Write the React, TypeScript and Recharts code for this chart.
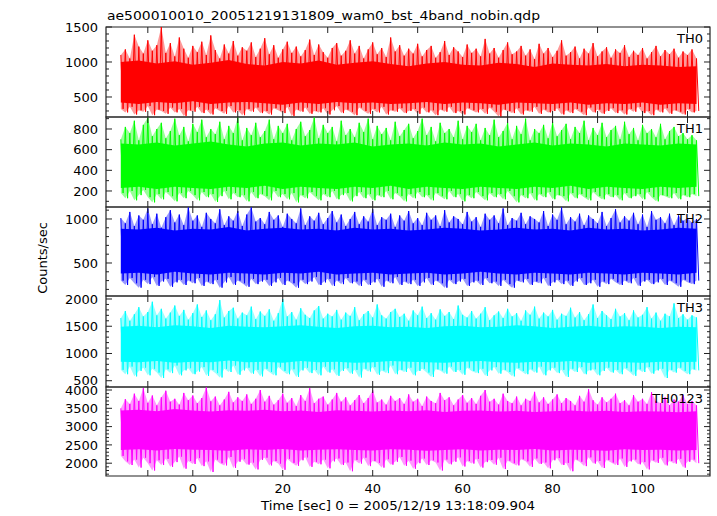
import React from 'react';
import { ComposedChart, Area, Line, XAxis, YAxis, ReferenceArea } from 'recharts';

// time bins: outer envelope every 1 s, dense core every 4 s, both starting at -16 s
const TIME_START = -16;
const BIN = 1;
const CORE_BIN = 4;

const X_MIN = -19.3;
const X_MAX = 115;
const X_TICKS = [-10, 0, 10, 20, 30, 40, 50, 60, 70, 80, 90, 100, 110];
const X_LABELS = [0, 20, 40, 60, 80, 100];

// TH0 (red)
const TH0_HI = [
  1100, 1180, 1050, 1390, 1220, 1120, 1310, 1160, 1240, 1500, 1130, 1270, 1080, 1350, 1190, 1060,
  1230, 1140, 1290, 1100, 1380, 1170, 1050, 1250, 1120, 1300, 1090, 1210, 1160, 1280, 1070, 1190,
  1340, 1110, 1240, 1060, 1180, 1290, 1130, 1220, 1080, 1170, 1320, 1100, 1250, 1140, 1060, 1200,
  1270, 1090, 1160, 1310, 1120, 1230, 1050, 1180, 1280, 1110, 1200, 1070, 1350, 1150, 1240, 1090,
  1190, 1120, 1260, 1080, 1170, 1230, 1060, 1140, 1300, 1100, 1210, 1150, 1070, 1250, 1130, 1190,
  1080, 1330, 1120, 1200, 1060, 1170, 1280, 1110, 1150, 1230, 1090, 1180, 1040, 1260, 1120, 1200,
  1070, 1160, 1310, 1090, 1140, 1220, 1050, 1190, 1120, 1270, 1080, 1150, 1210, 1060, 1180, 1130,
  1240, 1070, 1160, 1100, 1200, 1050, 1140, 1230, 1080, 1170, 1110, 1190, 1060, 1150, 1100, 1180, 1050,
];
const TH0_LO = [
  330, 280, 360, 250, 310, 290, 370, 240, 320, 300, 260, 350, 280, 330, 230, 310,
  290, 360, 270, 320, 250, 340, 300, 260, 370, 280, 310, 240, 330, 290, 350, 270,
  300, 250, 340, 310, 270, 360, 230, 320, 290, 350, 260, 300, 280, 340, 250, 310,
  370, 270, 320, 290, 240, 350, 300, 260, 330, 280, 360, 250, 310, 290, 340, 270,
  300, 330, 260, 350, 280, 310, 240, 320, 290, 360, 270, 300, 250, 340, 310, 280,
  330, 260, 350, 290, 220, 320, 300, 270, 340, 250, 310, 290, 360, 260, 320, 280,
  300, 340, 250, 310, 270, 330, 290, 240, 350, 280, 320, 260, 300, 340, 270, 310,
  250, 330, 290, 360, 270, 300, 240, 320, 280, 340, 260, 310, 290, 250, 330, 280, 300,
];
const TH0_CORE_HI = [1000, 1020, 980, 1010, 960, 990, 1030, 970, 950, 1000, 980, 1020, 960, 990, 1010, 970, 940, 980, 1000, 960, 950, 990, 970, 930, 980, 960, 950, 970, 940, 960, 950, 930, 940];
const TH0_CORE_LO = [420, 400, 430, 410, 440, 400, 420, 430, 410, 390, 420, 400, 430, 410, 420, 400, 410, 430, 400, 420, 410, 390, 420, 410, 400, 420, 390, 410, 400, 420, 390, 410, 400];

// TH1 (green)
const TH1_HI = [
  700, 820, 760, 880, 690, 840, 910, 730, 800, 860, 710, 780, 900, 740, 820, 680,
  850, 770, 890, 720, 800, 750, 870, 700, 830, 760, 910, 690, 810, 740, 860, 720,
  780, 890, 700, 830, 760, 850, 690, 800, 870, 730, 790, 910, 710, 840, 760, 820,
  680, 880, 740, 800, 720, 860, 770, 900, 700, 830, 750, 810, 690, 870, 730, 790,
  850, 710, 780, 900, 740, 820, 680, 860, 760, 800, 720, 880, 700, 830, 770, 850,
  690, 810, 740, 890, 720, 780, 860, 700, 830, 750, 900, 690, 800, 760, 840, 710,
  870, 730, 790, 850, 700, 820, 760, 880, 690, 810, 740, 860, 720, 790, 830, 700,
  870, 750, 810, 690, 840, 760, 800, 720, 850, 700, 780, 820, 730, 760, 700, 740, 690,
];
const TH1_LO = [
  180, 130, 200, 110, 160, 210, 140, 90, 170, 120, 190, 150, 100, 180, 130, 200,
  160, 110, 190, 140, 170, 95, 150, 200, 120, 180, 140, 160, 100, 190, 130, 170,
  150, 110, 200, 140, 170, 120, 180, 90, 160, 130, 190, 150, 110, 170, 140, 200,
  120, 160, 180, 100, 150, 190, 130, 170, 110, 160, 140, 200, 120, 180, 150, 100,
  170, 130, 190, 140, 160, 110, 180, 150, 120, 200, 140, 170, 100, 160, 130, 190,
  150, 110, 180, 140, 170, 120, 200, 150, 90, 160, 130, 180, 110, 170, 140, 190,
  120, 160, 150, 100, 180, 130, 170, 140, 110, 190, 150, 120, 170, 140, 160, 110,
  180, 130, 150, 170, 120, 190, 140, 100, 160, 150, 130, 180, 120, 160, 140, 170, 150,
];
const TH1_CORE_HI = [660, 650, 670, 640, 660, 680, 650, 630, 660, 670, 640, 660, 650, 670, 630, 650, 660, 640, 670, 650, 660, 630, 650, 670, 640, 660, 650, 630, 660, 650, 640, 660, 650];
const TH1_CORE_LO = [230, 240, 220, 240, 230, 220, 240, 230, 250, 220, 240, 230, 220, 240, 230, 250, 220, 240, 230, 220, 240, 230, 220, 240, 230, 250, 220, 240, 230, 220, 240, 230, 240];

// TH2 (blue)
const TH2_HI = [
  1010, 950, 1080, 920, 1040, 990, 1120, 940, 1060, 900, 1020, 1100, 960, 1050, 930, 1130,
  980, 1040, 910, 1070, 1000, 950, 1110, 930, 1030, 980, 1090, 920, 1050, 1130, 970, 1010,
  940, 1080, 990, 1040, 910, 1060, 1000, 950, 1120, 930, 1030, 980, 1070, 940, 1010, 1090,
  960, 1050, 920, 1000, 1080, 940, 1030, 970, 1110, 930, 1020, 990, 1060, 910, 1040, 980,
  1090, 950, 1010, 930, 1070, 990, 1040, 920, 1100, 960, 1030, 1000, 940, 1080, 970, 1020,
  910, 1060, 990, 1040, 950, 1120, 930, 1010, 980, 1070, 940, 1030, 1000, 960, 1090, 920,
  1050, 990, 1130, 940, 1020, 970, 1060, 930, 1040, 1000, 950, 1080, 920, 1010, 1110, 960,
  1030, 980, 1070, 940, 1050, 910, 1090, 990, 1020, 950, 1060, 930, 1040, 980, 1010, 960, 1000,
];
const TH2_LO = [
  300, 250, 330, 270, 220, 310, 260, 340, 240, 290, 320, 230, 280, 310, 250, 300,
  270, 330, 240, 290, 260, 310, 220, 280, 340, 250, 300, 270, 230, 320, 260, 290,
  310, 240, 280, 330, 250, 300, 270, 220, 310, 260, 290, 340, 250, 280, 320, 240,
  300, 260, 330, 270, 290, 240, 310, 250, 280, 320, 230, 300, 270, 340, 250, 290,
  260, 310, 240, 280, 330, 250, 300, 270, 220, 310, 260, 290, 320, 240, 280, 300,
  250, 330, 270, 290, 240, 310, 260, 220, 300, 280, 320, 250, 290, 270, 330, 240,
  280, 310, 260, 300, 240, 290, 330, 250, 270, 310, 230, 290, 260, 320, 280, 250,
  300, 270, 330, 240, 290, 310, 260, 280, 320, 250, 300, 270, 230, 310, 280, 260, 300,
];
const TH2_CORE_HI = [890, 880, 900, 870, 890, 880, 910, 870, 890, 900, 880, 890, 870, 900, 880, 890, 870, 880, 900, 890, 870, 880, 900, 880, 890, 870, 900, 880, 890, 870, 880, 900, 890];
const TH2_CORE_LO = [380, 390, 370, 400, 380, 370, 390, 380, 370, 390, 380, 400, 370, 380, 390, 370, 380, 390, 370, 380, 400, 380, 370, 390, 380, 370, 390, 380, 370, 390, 380, 370, 390];

// TH3 (cyan)
const TH3_HI = [
  1650, 1780, 1600, 1720, 1850, 1680, 1760, 1950, 1700, 1820, 1640, 1750, 1880, 1690, 1800, 1620,
  1740, 1900, 1670, 1790, 1610, 1720, 1980, 1660, 1780, 1840, 1640, 1750, 1700, 1860, 1630, 1770,
  1690, 1810, 1600, 1740, 2000, 1680, 1760, 1620, 1830, 1710, 1650, 1790, 1870, 1640, 1730, 1680,
  1800, 1620, 1750, 1690, 1850, 1610, 1720, 1780, 1660, 1900, 1700, 1640, 1760, 1820, 1670, 1730,
  1600, 1790, 1700, 1860, 1650, 1740, 1620, 1810, 1690, 1760, 1630, 1880, 1710, 1660, 1780, 1640,
  1730, 1850, 1610, 1700, 1770, 1650, 1820, 1680, 1740, 1600, 1790, 1710, 1860, 1640, 1750, 1680,
  1800, 1620, 1730, 1690, 1840, 1660, 1760, 1610, 1720, 1900, 1650, 1780, 1700, 1630, 1820, 1680,
  1740, 1610, 1790, 1660, 1710, 1850, 1640, 1750, 1600, 1730, 1680, 1920, 1650, 1720, 1620, 1700, 1660,
];
const TH3_LO = [
  700, 620, 760, 580, 680, 740, 600, 720, 650, 550, 710, 640, 780, 600, 690, 730,
  620, 670, 750, 590, 700, 640, 560, 720, 660, 780, 610, 690, 740, 630, 700, 580,
  720, 660, 600, 750, 680, 620, 710, 570, 690, 740, 640, 700, 600, 760, 650, 710,
  590, 680, 730, 630, 700, 560, 720, 670, 750, 610, 690, 640, 780, 620, 700, 660,
  740, 600, 680, 720, 650, 570, 710, 690, 630, 760, 660, 700, 610, 740, 680, 640,
  720, 590, 690, 750, 630, 700, 660, 580, 730, 680, 620, 710, 650, 760, 600, 690,
  740, 640, 700, 570, 720, 660, 750, 620, 690, 710, 600, 680, 740, 650, 700, 620,
  730, 670, 590, 710, 660, 750, 630, 690, 720, 550, 700, 650, 740, 680, 620, 710, 690,
];
const TH3_CORE_HI = [1490, 1510, 1480, 1520, 1500, 1470, 1510, 1490, 1480, 1500, 1520, 1490, 1470, 1500, 1510, 1480, 1490, 1470, 1500, 1510, 1480, 1490, 1520, 1500, 1470, 1490, 1510, 1480, 1500, 1490, 1470, 1490, 1480];
const TH3_CORE_LO = [850, 840, 860, 830, 850, 840, 870, 840, 850, 830, 860, 840, 850, 830, 840, 860, 850, 840, 830, 850, 860, 840, 830, 850, 840, 860, 830, 850, 840, 830, 850, 840, 850];

// TH0123 (magenta)
const TH0123_HI = [
  3500, 3750, 3620, 3900, 3700, 4050, 3650, 3850, 3580, 3800, 3980, 3680, 3760, 3600, 3920, 3720,
  3850, 3640, 3780, 4070, 3690, 3820, 3580, 3740, 3950, 3660, 3800, 3700, 3880, 3620, 3760, 4000,
  3680, 3840, 3600, 3720, 3900, 3650, 3780, 3560, 3860, 3700, 4050, 3640, 3760, 3820, 3600, 3740,
  3920, 3680, 3800, 3580, 3720, 3860, 3640, 3780, 3990, 3660, 3740, 3600, 3840, 3700, 3780, 3620,
  3880, 3680, 3760, 3560, 3820, 3700, 3640, 3920, 3720, 3800, 3580, 3740, 3860, 3650, 3780, 3620,
  3840, 4000, 3680, 3760, 3600, 3900, 3700, 3640, 3820, 3580, 3760, 3700, 3950, 3660, 3800, 3620,
  3740, 3880, 3640, 3780, 3700, 3580, 3840, 3680, 4020, 3720, 3600, 3800, 3660, 3760, 3900, 3640,
  3720, 3580, 3860, 3680, 3760, 3620, 3940, 3700, 3640, 3800, 3580, 3740, 3680, 3860, 3620, 3700, 3580,
];
const TH0123_LO = [
  2200, 2050, 1950, 2100, 1880, 2150, 2000, 1800, 2080, 1950, 2120, 1900, 2030, 2180, 1850, 2060,
  1980, 2140, 1920, 2050, 1760, 2100, 2000, 1940, 2170, 1870, 2040, 2110, 1960, 2020, 1830, 2090,
  2150, 1940, 2060, 1990, 1820, 2120, 2010, 1930, 2080, 2160, 1900, 2040, 1970, 2100, 1860, 2050,
  2130, 1950, 2020, 1780, 2090, 1990, 2150, 1920, 2060, 2010, 1880, 2110, 1960, 2040, 2170, 1930,
  2070, 1850, 2000, 2130, 1950, 2080, 2020, 1800, 2100, 1970, 2040, 2160, 1910, 2060, 1990, 2120,
  1880, 2030, 2090, 1960, 2150, 1840, 2070, 2000, 1940, 2110, 2050, 1900, 2130, 1980, 2020, 1860,
  2080, 2140, 1950, 2010, 1780, 2100, 2040, 1920, 2160, 1990, 2060, 1870, 2090, 2020, 1950, 2130,
  1900, 2050, 2100, 1970, 2030, 1830, 2080, 2010, 2150, 1940, 2060, 1990, 2120, 1880, 2040, 2100, 2000,
];
const TH0123_CORE_HI = [3440, 3460, 3420, 3480, 3440, 3410, 3450, 3430, 3460, 3420, 3440, 3400, 3450, 3430, 3410, 3440, 3420, 3450, 3400, 3430, 3440, 3410, 3430, 3400, 3420, 3440, 3410, 3430, 3400, 3420, 3410, 3390, 3420];
const TH0123_CORE_LO = [2360, 2380, 2350, 2390, 2370, 2360, 2340, 2380, 2360, 2390, 2350, 2370, 2380, 2360, 2350, 2380, 2370, 2340, 2360, 2380, 2350, 2370, 2360, 2390, 2350, 2370, 2360, 2340, 2380, 2360, 2370, 2350, 2360];

const TH0_LABELS = [500, 1000, 1500];
const TH1_LABELS = [200, 400, 600, 800];
const TH2_LABELS = [500, 1000];
const TH3_LABELS = [500, 1000, 1500, 2000];
const TH0123_LABELS = [2000, 2500, 3000, 3500, 4000];

const W = 717;
const H = 516;
const PLOT_L = 106;
const PLOT_R = 710;
const PLOT_W = PLOT_R - PLOT_L;
const Y_AXIS_W = 100;
const PANEL_EDGES = [27, 117, 207, 296, 387, 476];
const PAD = 12;
const FONT = '"DejaVu Sans", "Liberation Sans", sans-serif';
const INK = '#222';

const PANELS = [
  { name: 'TH0', color: '#ff0000', domain: [214, 1500], labels: TH0_LABELS, hi: TH0_HI, lo: TH0_LO, coreHi: TH0_CORE_HI, coreLo: TH0_CORE_LO },
  { name: 'TH1', color: '#00ff00', domain: [45, 916], labels: TH1_LABELS, hi: TH1_HI, lo: TH1_LO, coreHi: TH1_CORE_HI, coreLo: TH1_CORE_LO },
  { name: 'TH2', color: '#0000ff', domain: [125, 1136], labels: TH2_LABELS, hi: TH2_HI, lo: TH2_LO, coreHi: TH2_CORE_HI, coreLo: TH2_CORE_LO },
  { name: 'TH3', color: '#00ffff', domain: [385, 2055], labels: TH3_LABELS, hi: TH3_HI, lo: TH3_LO, coreHi: TH3_CORE_HI, coreLo: TH3_CORE_LO },
  { name: 'TH0123', color: '#ff00ff', domain: [1650, 4082], labels: TH0123_LABELS, hi: TH0123_HI, lo: TH0123_LO, coreHi: TH0123_CORE_HI, coreLo: TH0123_CORE_LO },
];

function band(hi: number[], lo: number[], step: number) {
  const n = Math.min(hi.length, lo.length);
  const rows = [];
  for (let i = 0; i < n; i++) rows.push({ t: TIME_START + i * step, band: [lo[i], hi[i]] });
  return rows;
}

// the raw light curve swings between bin max and bin min: peak at the bin start, dip half a bin later
function zigzag(hi: number[], lo: number[]) {
  const n = Math.min(hi.length, lo.length);
  const rows = [];
  for (let i = 0; i < n; i++) {
    rows.push({ t: TIME_START + i * BIN, v: hi[i] });
    rows.push({ t: TIME_START + (i + 0.5) * BIN, v: lo[i] });
  }
  return rows;
}

function minorTicks(domain: number[], step = 100) {
  const out: number[] = [];
  for (let v = Math.ceil(domain[0] / step) * step; v <= domain[1]; v += step) out.push(v);
  return out;
}

function YTick(props: any) {
  const { x, y, payload, labels } = props;
  const major = labels.includes(payload.value);
  const len = major ? 6 : 3;
  return (
    <g>
      <line x1={x} x2={x + len} y1={y} y2={y} stroke={INK} />
      <line x1={x + PLOT_W} x2={x + PLOT_W - len} y1={y} y2={y} stroke={INK} />
      {major && (
        <text x={x - 8} y={y} dy="0.36em" textAnchor="end" fontSize={13} fontFamily={FONT} fill="#000">
          {payload.value}
        </text>
      )}
    </g>
  );
}

function XTick(props: any) {
  const { x, y, payload, plotH, showLabels } = props;
  const top = y - plotH;
  return (
    <g>
      <line x1={x} x2={x} y1={y} y2={y - 6} stroke={INK} />
      <line x1={x} x2={x} y1={top} y2={top + 6} stroke={INK} />
      {showLabels && X_LABELS.includes(payload.value) && (
        <text x={x} y={y + 17} textAnchor="middle" fontSize={13} fontFamily={FONT} fill="#000">
          {payload.value}
        </text>
      )}
    </g>
  );
}

function Panel({ idx }: { idx: number }) {
  const p = PANELS[idx];
  const top = PANEL_EDGES[idx];
  const plotH = PANEL_EDGES[idx + 1] - top;
  const last = idx === PANELS.length - 1;
  const bottom = last ? 40 : PAD;
  const outer = band(p.hi, p.lo, BIN);
  const core = band(p.coreHi, p.coreLo, CORE_BIN);
  const raw = zigzag(p.hi, p.lo);
  return (
    <div style={{ position: 'absolute', left: 0, top: top - PAD }}>
      <ComposedChart
        width={W}
        height={plotH + PAD + bottom}
        margin={{ top: PAD, right: W - PLOT_R, bottom: bottom - 1, left: PLOT_L - Y_AXIS_W }}
      >
        <XAxis
          type="number"
          dataKey="t"
          domain={[X_MIN, X_MAX]}
          ticks={X_TICKS}
          interval={0}
          allowDataOverflow
          height={1}
          tickSize={0}
          tickMargin={0}
          axisLine={false}
          tick={(tp: any) => <XTick {...tp} plotH={plotH} showLabels={last} />}
        />
        <YAxis
          type="number"
          domain={p.domain}
          ticks={minorTicks(p.domain)}
          interval={0}
          allowDataOverflow
          width={Y_AXIS_W}
          tickSize={0}
          tickMargin={0}
          axisLine={false}
          tick={(tp: any) => <YTick {...tp} labels={p.labels} />}
        />
        <Area
          data={outer}
          dataKey="band"
          type="linear"
          fill={p.color}
          fillOpacity={0.4}
          stroke="none"
          dot={false}
          activeDot={false}
          isAnimationActive={false}
        />
        <Line
          data={raw}
          dataKey="v"
          type="linear"
          stroke={p.color}
          strokeWidth={1}
          dot={false}
          activeDot={false}
          isAnimationActive={false}
        />
        <Area
          data={core}
          dataKey="band"
          type="linear"
          fill={p.color}
          fillOpacity={1}
          stroke="none"
          dot={false}
          activeDot={false}
          isAnimationActive={false}
        />
        <ReferenceArea
          x1={X_MIN}
          x2={X_MAX}
          y1={p.domain[0]}
          y2={p.domain[1]}
          fill="none"
          stroke={INK}
          strokeWidth={1.2}
          ifOverflow="visible"
        />
      </ComposedChart>
    </div>
  );
}

export default function App() {
  return (
    <div style={{ position: 'absolute', left: 0, top: 0, width: W, height: H, background: '#fff' }}>
      {PANELS.map((_, i) => (
        <Panel key={i} idx={i} />
      ))}
      <svg width={W} height={H} style={{ position: 'absolute', left: 0, top: 0, pointerEvents: 'none' }}>
        <text x={107} y={20} fontSize={13} fontFamily={FONT} textLength={433} lengthAdjust="spacingAndGlyphs">
          ae500010010_20051219131809_wam0_bst_4band_nobin.qdp
        </text>
        <text
          transform="translate(47,258) rotate(-90)"
          textAnchor="middle"
          fontSize={13}
          fontFamily={FONT}
        >
          Counts/sec
        </text>
        <text x={261} y={510} fontSize={13} fontFamily={FONT} textLength={274} lengthAdjust="spacingAndGlyphs">
          Time [sec] 0 = 2005/12/19 13:18:09.904
        </text>
        {PANELS.map((p, i) => (
          <text key={p.name} x={703} y={PANEL_EDGES[i] + 16} textAnchor="end" fontSize={13} fontFamily={FONT}>
            {p.name}
          </text>
        ))}
      </svg>
    </div>
  );
}
